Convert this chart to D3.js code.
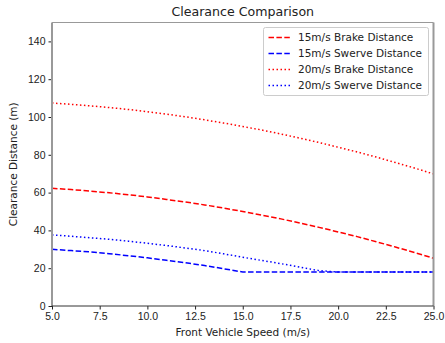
<!DOCTYPE html>
<html>
<head>
<meta charset="utf-8">
<script src="https://cdn.jsdelivr.net/npm/d3@7"></script>
<style>
  body { margin: 0; background: #fff; }
  svg { font-family: "DejaVu Sans", sans-serif; }
  .tick text { font-size: 10.5px; fill: #222; }
</style>
</head>
<body>
<svg width="445" height="343"></svg>
<script>
// front vehicle speed (m/s)
const speeds = [5, 6, 7, 8, 9, 10, 11, 12, 13, 14, 15, 16, 17, 18, 19, 20, 21, 22, 23, 24, 25];

const brake15 = [62.3, 61.6, 60.8, 59.9, 58.9, 57.7, 56.4, 55.0, 53.5, 51.8, 50.0, 48.1, 46.1, 43.9, 41.6, 39.2, 36.7, 34.0, 31.2, 28.3, 25.3];
const swerve15 = [30.0, 29.3, 28.6, 27.7, 26.6, 25.5, 24.2, 22.9, 21.4, 19.7, 18.0, 18.0, 18.0, 18.0, 18.0, 18.0, 18.0, 18.0, 18.0, 18.0, 18.0];
const brake20 = [107.4, 106.7, 105.9, 105.0, 104.0, 102.8, 101.5, 100.1, 98.5, 96.8, 95.0, 93.1, 91.0, 88.8, 86.5, 84.0, 81.5, 78.8, 75.9, 73.0, 69.9];
const swerve20 = [37.6, 36.9, 36.1, 35.3, 34.3, 33.2, 32.0, 30.7, 29.3, 27.6, 25.8, 24.1, 22.4, 20.6, 18.7, 18.0, 18.0, 18.0, 18.0, 18.0, 18.0];

const seriesNames = ['15m/s Brake Distance', '15m/s Swerve Distance', '20m/s Brake Distance', '20m/s Swerve Distance'];
const xTicks = [5, 7.5, 10, 12.5, 15, 17.5, 20, 22.5, 25];
const yTicks = [0, 20, 40, 60, 80, 100, 120, 140];

const series = [
    { name: seriesNames[0], values: brake15, color: 'red', dash: '5.5,2.4' },
    { name: seriesNames[1], values: swerve15, color: 'blue', dash: '5.5,2.4' },
    { name: seriesNames[2], values: brake20, color: 'red', dash: '1.5,2.5' },
    { name: seriesNames[3], values: swerve20, color: 'blue', dash: '1.5,2.5' }
];

const svg = d3.select('svg');
const plotLeft = 52, plotRight = 433.5, plotTop = 22.5, plotBottom = 306;

const xScale = d3.scaleLinear().domain([5, 25]).range([plotLeft, plotRight]);
const yScale = d3.scaleLinear().domain([0, 150]).range([plotBottom, plotTop]);

const line = d3.line()
    .x((d, i) => xScale(speeds[i]))
    .y(d => yScale(d));

// lines
series.forEach(s => {
    svg.append('path')
        .attr('d', line(s.values))
        .attr('fill', 'none')
        .attr('stroke', s.color)
        .attr('stroke-width', 1.5)
        .attr('stroke-dasharray', s.dash);
});

// axes
svg.append('g')
    .attr('transform', `translate(0, ${plotBottom})`)
    .call(d3.axisBottom(xScale).tickValues(xTicks).tickFormat(d3.format('.1f')).tickSize(3.5).tickPadding(3))
    .call(g => g.select('.domain').remove());

svg.append('g')
    .attr('transform', `translate(${plotLeft}, 0)`)
    .call(d3.axisLeft(yScale).tickValues(yTicks).tickSize(3.5).tickPadding(3))
    .call(g => g.select('.domain').remove());

svg.selectAll('.tick line').attr('stroke', '#222');

// spines
svg.append('line').attr('x1', plotLeft).attr('x2', plotLeft).attr('y1', plotTop).attr('y2', plotBottom)
    .attr('stroke', '#999').attr('stroke-width', 2);
svg.append('line').attr('x1', plotRight).attr('x2', plotRight).attr('y1', plotTop).attr('y2', plotBottom)
    .attr('stroke', '#999').attr('stroke-width', 2);
svg.append('line').attr('x1', plotLeft).attr('x2', plotRight).attr('y1', plotTop).attr('y2', plotTop)
    .attr('stroke', '#999').attr('stroke-width', 1);
svg.append('line').attr('x1', plotLeft).attr('x2', plotRight).attr('y1', plotBottom).attr('y2', plotBottom)
    .attr('stroke', '#333').attr('stroke-width', 1);

// labels
svg.append('text')
    .attr('x', (plotLeft + plotRight) / 2)
    .attr('y', 16)
    .attr('text-anchor', 'middle')
    .attr('font-size', 12.6)
    .attr('fill', '#222')
    .text('Clearance Comparison');

svg.append('text')
    .attr('x', (plotLeft + plotRight) / 2)
    .attr('y', 336)
    .attr('text-anchor', 'middle')
    .attr('font-size', 10.5)
    .attr('fill', '#222')
    .text('Front Vehicle Speed (m/s)');

svg.append('text')
    .attr('transform', `translate(17, ${(plotTop + plotBottom) / 2}) rotate(-90)`)
    .attr('text-anchor', 'middle')
    .attr('font-size', 10.5)
    .attr('fill', '#222')
    .text('Clearance Distance (m)');

// legend
const legend = svg.append('g').attr('transform', 'translate(263.5, 27.5)');
legend.append('rect')
    .attr('width', 165).attr('height', 68)
    .attr('rx', 2)
    .attr('fill', '#fff')
    .attr('stroke', '#ccc');

series.forEach((s, i) => {
    const y = 10 + i * 16;
    legend.append('line')
        .attr('x1', 5).attr('x2', 27)
        .attr('y1', y).attr('y2', y)
        .attr('stroke', s.color)
        .attr('stroke-width', 1.5)
        .attr('stroke-dasharray', s.dash);
    legend.append('text')
        .attr('x', 34.5).attr('y', y + 3.8)
        .attr('font-size', 10.5)
        .attr('fill', '#222')
        .text(s.name);
});
</script>
</body>
</html>
